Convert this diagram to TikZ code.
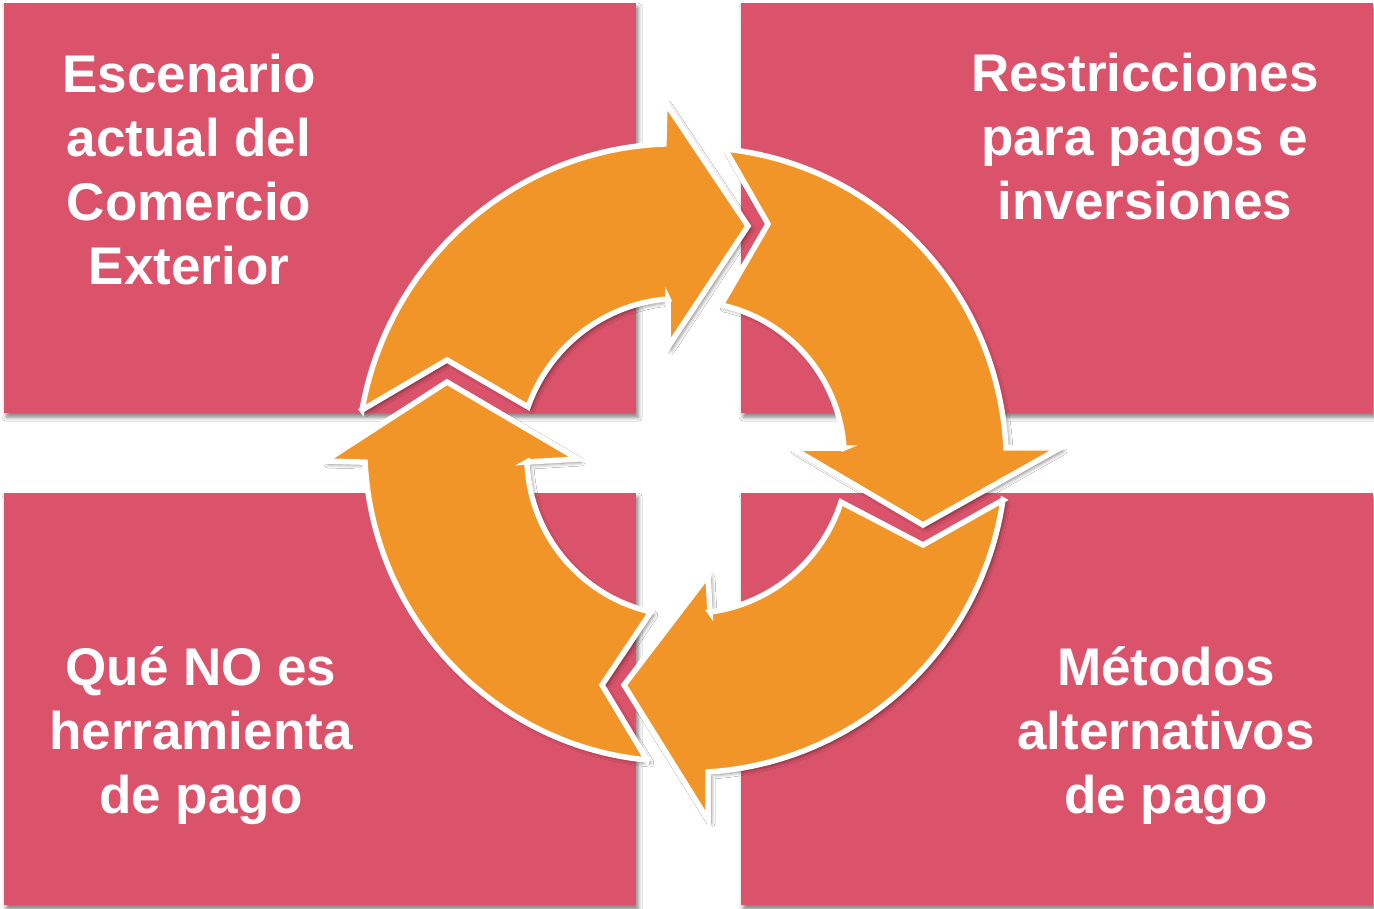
\documentclass[tikz,border=0pt]{standalone}
\usepackage{fontspec}
\setmainfont{Liberation Sans}
\usetikzlibrary{shadows.blur}
\definecolor{boxpink}{RGB}{219,83,107}
\definecolor{arroworange}{RGB}{241,149,40}
\tikzset{
  boxstyle/.style={fill=boxpink, draw=none, inner sep=0pt, anchor=north west,
    minimum width=632pt, minimum height=410pt,
    blur shadow={shadow xshift=2pt, shadow yshift=-4pt, shadow blur radius=4pt, shadow opacity=50}},
  lbl/.style={text=white, font=\fontsize{53}{64}\selectfont\bfseries, align=center, inner sep=0pt},
  cyclearrowstyle/.style={fill=arroworange, draw=white, line width=5.5pt, line join=miter, miter limit=10,
    blur shadow={shadow xshift=3pt, shadow yshift=-3pt, shadow blur radius=4pt, shadow opacity=50}}
}
\makeatletter
\def\cyc@split#1,#2\@nil#3#4{\def#3{#1}\def#4{#2}}
% args: tail-outer, head-outer, wing-outer, tip, wing-inner, head-inner, tail-inner, tail-notch
\newcommand\cyclearrow[8]{%
  \cyc@split#1\@nil\cToX\cToY
  \cyc@split#2\@nil\cHoX\cHoY
  \cyc@split#6\@nil\cHiX\cHiY
  \cyc@split#7\@nil\cTiX\cTiY
  \pgfmathsetmacro\cAa{atan2((\cToY)-456,(\cToX)-686)}%
  \pgfmathsetmacro\cRa{veclen((\cToX)-686,(\cToY)-456)}%
  \pgfmathsetmacro\cAb{atan2((\cHoY)-456,(\cHoX)-686)}%
  \pgfmathsetmacro\cRb{veclen((\cHoX)-686,(\cHoY)-456)}%
  \pgfmathsetmacro\cAc{atan2((\cHiY)-456,(\cHiX)-686)}%
  \pgfmathsetmacro\cRc{veclen((\cHiX)-686,(\cHiY)-456)}%
  \pgfmathsetmacro\cAd{atan2((\cTiY)-456,(\cTiX)-686)}%
  \pgfmathsetmacro\cRd{veclen((\cTiX)-686,(\cTiY)-456)}%
  \path[cyclearrowstyle] (#1)
    -- plot[domain=0:1,samples=50,variable=\t]
      ({686+((\cRa)+((\cRb)-(\cRa))*\t)*cos((\cAa)+((\cAb)-(\cAa))*\t)},
       {456+((\cRa)+((\cRb)-(\cRa))*\t)*sin((\cAa)+((\cAb)-(\cAa))*\t)})
    -- (#3) -- (#4) -- (#5) -- (#6)
    -- plot[domain=0:1,samples=50,variable=\t]
      ({686+((\cRc)+((\cRd)-(\cRc))*\t)*cos((\cAc)+((\cAd)-(\cAc))*\t)},
       {456+((\cRc)+((\cRd)-(\cRc))*\t)*sin((\cAc)+((\cAd)-(\cAc))*\t)})
    -- (#8) -- cycle;
}
\makeatother
\begin{document}
\begin{tikzpicture}[x=1pt,y=-1pt]
\useasboundingbox (0,0) rectangle (1374,909);
\fill[white] (0,0) rectangle (1374,909);
% quadrant boxes
\node[boxstyle] (tlbox) at (4,3) {};
\node[boxstyle] (trbox) at (741,3) {};
\node[boxstyle, minimum height=412pt] (blbox) at (4,493) {};
\node[boxstyle, minimum height=412pt] (brbox) at (741,493) {};
% labels
\node[lbl] (tltext) at (189,170) {Escenario\\actual del\\Comercio\\Exterior};
\node[lbl] (trtext) at (1145,137) {Restricciones\\para pagos e\\inversiones};
\node[lbl] (bltext) at (201,736) {Qué NO es\\herramienta\\de pago};
\node[lbl] (brtext) at (1166,736) {Métodos\\alternativos\\de pago};
% cycle arrows
\cyclearrow{362,410}{664,144}{665,102}{748,226}{668,347}{668,299}{528,407}{447,360}
\cyclearrow{725,149}{1006,448}{1060,448}{923,525}{792,448}{844,448}{721,305}{768,224}
\cyclearrow{1003,500}{708,772}{708,820}{624,685}{708,575}{710,612}{841,502}{923,545}
\cyclearrow{647,760}{365,462}{325,461}{447,382}{578,459}{527,462}{651,612}{602,685}
\end{tikzpicture}
\end{document}
